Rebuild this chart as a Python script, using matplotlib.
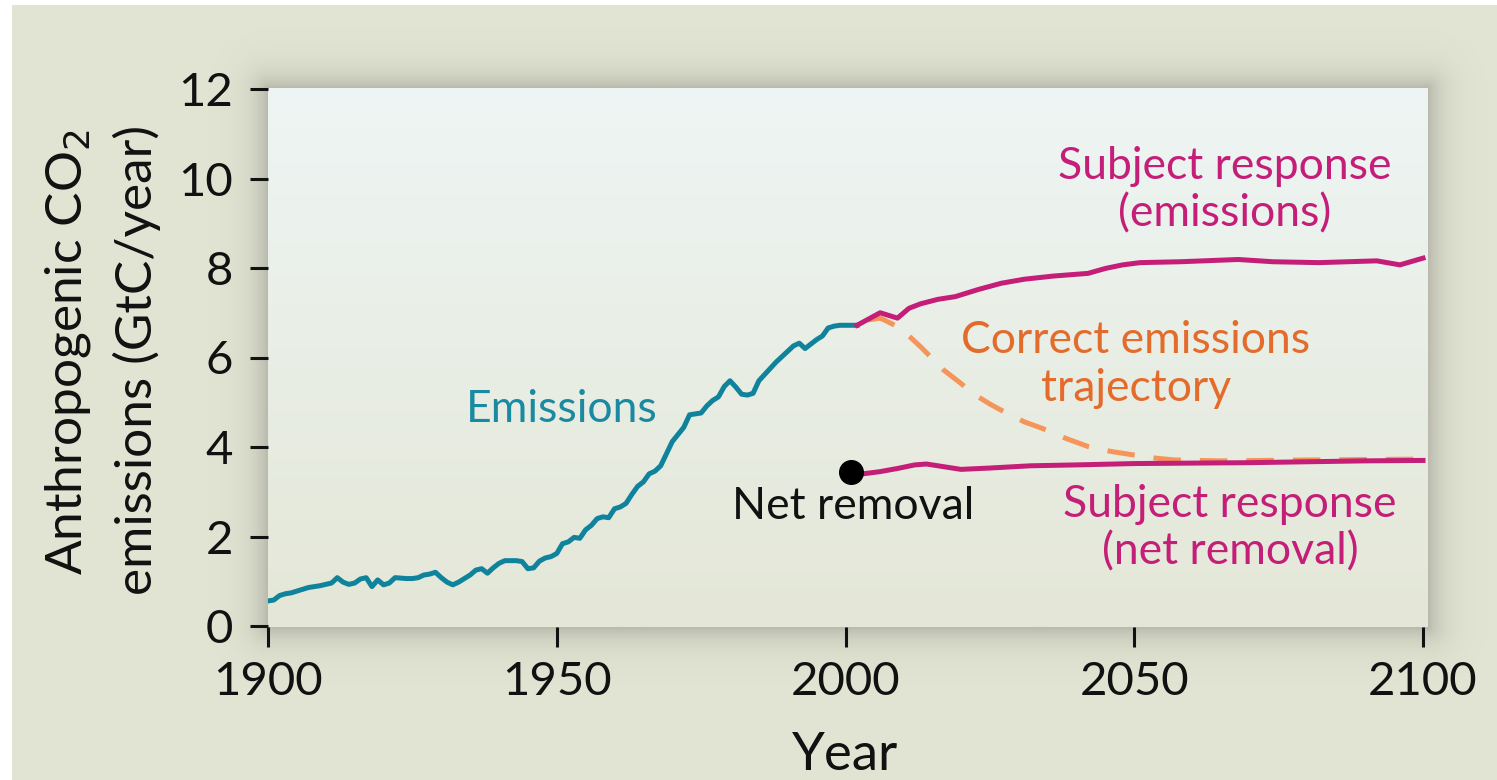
import numpy as np
import matplotlib
matplotlib.use("Agg")
import matplotlib.pyplot as plt

plt.rcParams['font.family'] = ['Lato', 'DejaVu Sans']

# ---------------- data ----------------
hist_years = list(range(1900, 2003))
hist_emissions = [
    0.56, 0.58, 0.68, 0.72, 0.74, 0.78, 0.82, 0.86, 0.88, 0.90,   # 1900-1909
    0.93, 0.96, 1.08, 0.98, 0.93, 0.96, 1.05, 1.08, 0.88, 1.03,   # 1910-1919
    0.92, 0.96, 1.08, 1.07, 1.06, 1.06, 1.08, 1.14, 1.16, 1.20,   # 1920-1929
    1.08, 0.98, 0.92, 0.98, 1.06, 1.14, 1.25, 1.28, 1.18, 1.30,   # 1930-1939
    1.40, 1.46, 1.46, 1.46, 1.44, 1.28, 1.30, 1.45, 1.52, 1.55,   # 1940-1949
    1.62, 1.84, 1.88, 1.98, 1.96, 2.15, 2.25, 2.40, 2.44, 2.42,   # 1950-1959
    2.62, 2.66, 2.74, 2.94, 3.12, 3.22, 3.40, 3.46, 3.58, 3.85,   # 1960-1969
    4.12, 4.28, 4.44, 4.72, 4.74, 4.76, 4.92, 5.04, 5.12, 5.35,   # 1970-1979
    5.48, 5.34, 5.18, 5.16, 5.20, 5.48, 5.62, 5.76, 5.90, 6.02,   # 1980-1989
    6.14, 6.26, 6.32, 6.20, 6.30, 6.40, 6.48, 6.66, 6.70, 6.72,   # 1990-1999
    6.72, 6.72, 6.72,                                             # 2000-2002
]

resp_em_years = [2002, 2004, 2006, 2008, 2009, 2011, 2013, 2016, 2019, 2023, 2027,
                 2031, 2036, 2042, 2045, 2048, 2051, 2058, 2068, 2074, 2082, 2092,
                 2096, 2100]
resp_em_values = [6.72, 6.86, 7.00, 6.92, 6.88, 7.10, 7.20, 7.30, 7.36, 7.52, 7.66,
                  7.75, 7.82, 7.88, 7.99, 8.07, 8.12, 8.14, 8.19, 8.14, 8.12, 8.16,
                  8.07, 8.22]

correct_years = [2004, 2006, 2007, 2009, 2011, 2013, 2015, 2017, 2020, 2022, 2025,
                 2028, 2031, 2034, 2038, 2042, 2046, 2050, 2053, 2057, 2065, 2080,
                 2090, 2100]
correct_values = [6.84, 6.88, 6.82, 6.69, 6.48, 6.24, 5.98, 5.72, 5.42, 5.20, 4.96,
                  4.75, 4.56, 4.42, 4.20, 4.01, 3.90, 3.82, 3.76, 3.71, 3.69, 3.71,
                  3.72, 3.73]

removal_years = [2001, 2003, 2006, 2009, 2012, 2014, 2017, 2020, 2025, 2032, 2040,
                 2050, 2060, 2070, 2080, 2090, 2100]
removal_values = [3.44, 3.40, 3.45, 3.52, 3.60, 3.62, 3.56, 3.50, 3.53, 3.58, 3.60,
                  3.63, 3.64, 3.65, 3.67, 3.69, 3.70]

x_ticks = [1900, 1950, 2000, 2050, 2100]
y_ticks = [0, 2, 4, 6, 8, 10, 12]

# ---------------- style ----------------
TEAL = '#10839c'
TEAL_TXT = '#1a8aa2'
MAGENTA = '#c41e78'
ORANGE = '#f5955a'
ORANGE_TXT = '#e36b2c'
BASE = np.array([0xe3, 0xe5, 0xd4]) / 255.0

W, H = 1497, 780
fig = plt.figure(figsize=(W / 100, H / 100), dpi=100)

# plot panel in pixels
pl, pr, pt, pb = 268, 1428, 88, 627

# background with soft shadow around the panel
bg = fig.add_axes([0, 0, 1, 1], zorder=-10)
yy, xx = np.mgrid[0:H, 0:W] + 0.5
dx = np.maximum(np.maximum(pl - xx, xx - pr), 0)
dy = np.maximum(np.maximum(pt - yy, yy - pb), 0)
d = np.sqrt(dx ** 2 + dy ** 2)
shade = 0.19 * np.exp(-d / 16.0)
img = BASE[None, None, :] * (1 - shade[..., None])
img[:5, :, :] = 1.0
img[:, :12, :] = 1.0
bg.imshow(img, extent=[0, W, H, 0], aspect='auto', interpolation='bilinear')
bg.set_xlim(0, W)
bg.set_ylim(H, 0)
bg.axis('off')

ax = fig.add_axes([pl / W, 1 - pb / H, (pr - pl) / W, (pb - pt) / H])
x0, x1 = 1900, 1900 + (pr - 268) / 5.775
y0, y1 = -(pb - 626) / 44.75, 12 + (89 - pt) / 44.75
ax.set_xlim(x0, x1)
ax.set_ylim(y0, y1)

top_c = np.array([0xee, 0xf5, 0xf4]) / 255.0
bot_c = np.array([0xe4, 0xe7, 0xd7]) / 255.0
t = np.linspace(0, 1, 256)[:, None]
grad = (top_c[None, :] * (1 - t) + bot_c[None, :] * t)[:, None, :]
ax.imshow(grad, extent=[x0, x1, y0, y1], aspect='auto', origin='upper', zorder=0)

for s in ax.spines.values():
    s.set_visible(False)

LW = 3.6
ax.plot(correct_years, correct_values, color=ORANGE, lw=LW,
        linestyle=(0, (5.5, 3.8)), zorder=2, solid_capstyle='butt')
ax.plot(hist_years, hist_emissions, color=TEAL, lw=LW, zorder=3,
        solid_joinstyle='round')
ax.plot(resp_em_years, resp_em_values, color=MAGENTA, lw=LW, zorder=3,
        solid_joinstyle='round')
ax.plot(removal_years, removal_values, color=MAGENTA, lw=LW, zorder=3)
ax.plot([removal_years[0]], [removal_values[0]], 'o', color='black',
        markersize=17, zorder=4)

ax.set_xticks(x_ticks)
ax.set_yticks(y_ticks)
ax.tick_params(axis='x', direction='out', length=14.5, width=2.2, pad=10,
               labelsize=34, colors='#111111')
ax.tick_params(axis='y', direction='out', length=13, width=2.2, pad=12,
               labelsize=34, colors='#111111')

fig.text(845 / W, 1 - 756 / H, 'Year', ha='center', va='center',
         fontsize=38, color='#111111')
fig.text(68 / W, 1 - 352 / H, 'Anthropogenic CO$_2$', rotation=90,
         ha='center', va='center', fontsize=37, color='#111111')
fig.text(137 / W, 1 - 360 / H, 'emissions (GtC/year)', rotation=90,
         ha='center', va='center', fontsize=37, color='#111111')

fs = 32
ax.text(1950.9, 4.83, 'Emissions', color=TEAL_TXT, fontsize=fs,
        ha='center', va='center', zorder=5)
ax.text(2065.7, 9.74, 'Subject response\n(emissions)', color=MAGENTA,
        fontsize=fs, ha='center', va='center', linespacing=1.2, zorder=5)
ax.text(2050.3, 5.85, 'Correct emissions\ntrajectory', color=ORANGE_TXT,
        fontsize=fs, ha='center', va='center', linespacing=1.2, zorder=5)
ax.text(2001.3, 2.68, 'Net removal', color='#111111', fontsize=fs,
        ha='center', va='center', zorder=5)
ax.text(2066.6, 2.19, 'Subject response\n(net removal)', color=MAGENTA,
        fontsize=fs, ha='center', va='center', linespacing=1.2, zorder=5)

fig.savefig('out.png', dpi=100)
